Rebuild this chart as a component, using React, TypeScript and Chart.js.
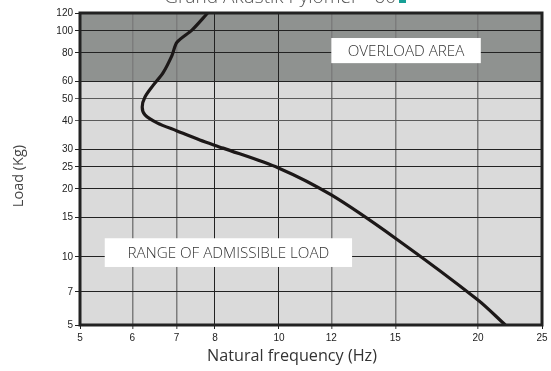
import React, { useEffect, useRef } from "react";
import { Chart, registerables } from "chart.js";

Chart.register(...registerables);

const chartTitle = "Grand Akustik Pylomer - 60";
const xAxisTitle = "Natural frequency (Hz)";
const yAxisTitle = "Load (Kg)";
const overloadLabel = "OVERLOAD AREA";
const admissibleLabel = "RANGE OF ADMISSIBLE LOAD";

const xTicks = [5, 6, 7, 8, 10, 12, 15, 20, 25];
const yTicks = [5, 7, 10, 15, 20, 25, 30, 40, 50, 60, 80, 100, 120];

const frequency = [7.8, 7.39, 7.01, 6.89, 6.68, 6.45, 6.27, 6.21, 6.27, 6.54, 7.01, 7.59, 8.23, 10, 12, 15, 20, 22];
const load = [120, 101, 89, 78, 65.4, 57.4, 51, 46.1, 42.5, 39.2, 36.1, 32.9, 30.3, 24.7, 18.8, 12.1, 6.45, 5];

const overloadThreshold = 60;
const yMin = 5;
const yMax = 120;
const xMin = 5;
const xMax = 25;

const grayX = [6, 7, 12, 15, 20];
const grayY = [40, 50];

export default function App() {
  const canvasRef = useRef<HTMLCanvasElement | null>(null);

  useEffect(() => {
    document.body.style.margin = "0";
    const canvas = canvasRef.current;
    if (!canvas) return;

    const bgPlugin = {
      id: "bgPlugin",
      beforeDraw(chart: any) {
        const { ctx, chartArea: a, scales } = chart;
        ctx.save();
        ctx.fillStyle = "#dadada";
        ctx.fillRect(a.left, a.top, a.right - a.left, a.bottom - a.top);
        const yT = scales.y.getPixelForValue(overloadThreshold);
        ctx.fillStyle = "#8f9290";
        ctx.fillRect(a.left, a.top, a.right - a.left, yT - a.top);
        ctx.restore();
      },
      afterDraw(chart: any) {
        const { ctx, chartArea: a, scales } = chart;
        const xs = scales.x;
        const ys = scales.y;
        ctx.save();
        ctx.strokeStyle = "#222";
        ctx.lineWidth = 3;
        ctx.strokeRect(a.left, a.top, a.right - a.left, a.bottom - a.top);

        const box = (x0: number, x1: number, y0: number, y1: number, text: string) => {
          const px0 = xs.getPixelForValue(x0);
          const px1 = xs.getPixelForValue(x1);
          const py0 = ys.getPixelForValue(y0);
          const py1 = ys.getPixelForValue(y1);
          ctx.fillStyle = "#ffffff";
          ctx.fillRect(px0, py0, px1 - px0, py1 - py0);
          ctx.fillStyle = "#333";
          ctx.font = "300 15.2px 'Open Sans'";
          ctx.textAlign = "center";
          ctx.textBaseline = "middle";
          ctx.fillText(text, (px0 + px1) / 2, (py0 + py1) / 2 + 1);
        };
        box(12.0, 20.2, 93, 72, overloadLabel);
        box(5.45, 12.9, 12.1, 9.03, admissibleLabel);

        ctx.fillStyle = "#555";
        ctx.font = "300 19px 'Open Sans'";
        ctx.textAlign = "right";
        ctx.textBaseline = "alphabetic";
        ctx.fillText(chartTitle, 396, 3);
        ctx.fillStyle = "#17a096";
        ctx.fillRect(399, -10, 7, 13);

        ctx.save();
        ctx.translate(19, 176);
        ctx.rotate(-Math.PI / 2);
        ctx.fillStyle = "#444";
        ctx.font = "400 14.5px 'Open Sans'";
        ctx.textAlign = "center";
        ctx.textBaseline = "middle";
        ctx.fillText(yAxisTitle, 0, 0);
        ctx.restore();

        ctx.fillStyle = "#333";
        ctx.font = "400 16.2px 'Open Sans'";
        ctx.textAlign = "center";
        ctx.textBaseline = "middle";
        ctx.fillText(xAxisTitle, 292, 356);
        ctx.restore();
      },
    };

    const chart = new Chart(canvas, {
      type: "scatter",
      data: {
        datasets: [
          {
            data: frequency.map((f, i) => ({ x: f, y: load[i] })),
            showLine: true,
            borderColor: "#1c1818",
            borderWidth: 3.2,
            pointRadius: 0,
            tension: 0.3,
            fill: false,
          },
        ],
      },
      options: {
        animation: false,
        responsive: false,
        maintainAspectRatio: false,
        layout: { padding: { left: 0, right: 9, top: 13, bottom: 0 } },
        plugins: { legend: { display: false }, tooltip: { enabled: false }, title: { display: false } },
        scales: {
          x: {
            type: "logarithmic",
            min: xMin,
            max: xMax,
            afterBuildTicks: (s: any) => {
              s.ticks = xTicks.map((v) => ({ value: v }));
            },
            afterFit: (s: any) => {
              s.height = 46;
            },
            ticks: {
              callback: (v: any) => String(v),
              color: "#222",
              font: { family: "'Liberation Sans'", size: 10 },
              autoSkip: false,
              maxRotation: 0,
              padding: 3,
            },
            grid: {
              color: (ctx: any) => (ctx.tick && grayX.includes(ctx.tick.value) ? "#7c7c7c" : "#222"),
              lineWidth: (ctx: any) => (ctx.tick && grayX.includes(ctx.tick.value) ? 1.5 : 1),
              tickLength: 4,
              drawTicks: true,
            },
            border: { display: false },
          },
          y: {
            type: "logarithmic",
            min: yMin,
            max: yMax,
            afterBuildTicks: (s: any) => {
              s.ticks = yTicks.map((v) => ({ value: v }));
            },
            afterFit: (s: any) => {
              s.width = 80;
            },
            ticks: {
              callback: (v: any) => String(v),
              color: "#222",
              font: { family: "'Liberation Sans'", size: 10 },
              autoSkip: false,
              padding: 2,
            },
            grid: {
              color: (ctx: any) => (ctx.tick && grayY.includes(ctx.tick.value) ? "#5a5a5a" : "#222"),
              lineWidth: 1,
              tickLength: 5,
              drawTicks: true,
            },
            border: { display: false },
          },
        },
      },
      plugins: [bgPlugin],
    });

    return () => chart.destroy();
  }, []);

  return (
    <div style={{ width: 551, height: 371 }}>
      <canvas ref={canvasRef} width={551} height={371} style={{ display: "block" }} />
    </div>
  );
}
